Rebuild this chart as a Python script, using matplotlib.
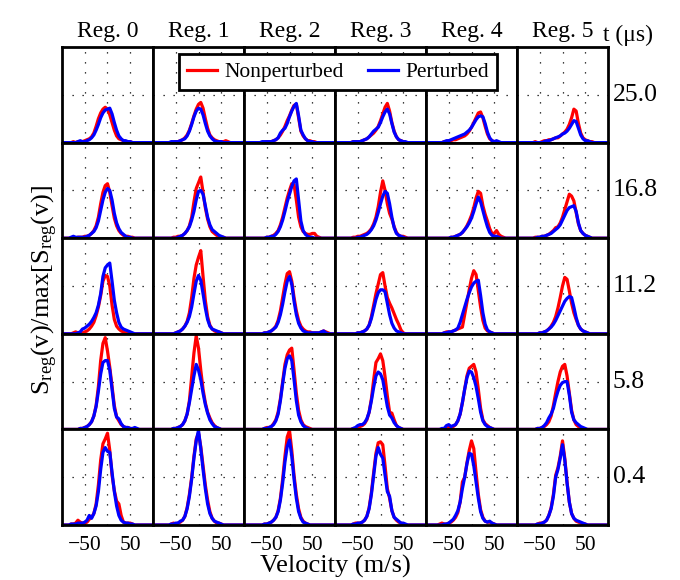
import matplotlib
matplotlib.use('Agg')
import matplotlib.pyplot as plt

# velocity sampling grid (m/s)
velocity = list(range(-100, 105, 5))

regions = ['Reg. 0', 'Reg. 1', 'Reg. 2', 'Reg. 3', 'Reg. 4', 'Reg. 5']
times = ['25.0', '16.8', '11.2', '5.8', '0.4']

# S_reg(v)/max[S_reg(v)], one list per region
nonpert_25_0 = [
    [0,0,0,0,0,.01,0,.01,.01,.01, .02,.03,.04,.06,.10,.17,.25,.31,.35,.37,.35,.29,.21,.13,.07,.04,.03,.02,.01,.01,.01, 0,0,0,0,0,0,0,0,0,0],
    [0,0,0,0,0,0,0,0,0,0, .01,.01,.02,.03,.05,.08,.13,.20,.28,.35,.40,.42,.36,.25,.15,.08,.05,.03,.02,.01,.01, .01,.02,.01,0,0,0,0,0,0,0],
    [0,0,0,0,0,0,0,0,0,0, .01,.01,.01,.02,.03,.05,.08,.12,.17,.23,.28,.34,.39,.40,.26,.12,.07,.04,.02,.02,.01, .01,0,0,0,0,0,0,0,0,0],
    [0,0,0,0,0,0,0,0,.01,.01, .01,.01,.02,.03,.04,.06,.08,.10,.13,.17,.23,.30,.37,.41,.33,.21,.12,.06,.03,.02,.01, 0,0,0,0,0,0,0,0,0,0],
    [0,0,0,0,0,0,0,0,.01,.01, .02,.02,.03,.03,.04,.05,.06,.07,.09,.12,.16,.21,.26,.31,.32,.26,.17,.09,.04,.02,.01, 0,0,0,0,0,0,0,0,0,0],
    [0,0,0,0,0,0,0,0,.01,0, 0,.01,.02,.02,.03,.03,.04,.05,.05,.07,.09,.11,.14,.19,.26,.35,.33,.20,.10,.05,.03, .02,.01,.01,0,0,0,0,0,0,0],
]
pert_25_0 = [
    [0,0,0,0,0,0,0,.01,.02,.01, .01,.02,.03,.05,.08,.13,.19,.26,.31,.34,.35,.36,.30,.21,.13,.07,.04,.02,.02,.01,.01, 0,0,0,0,0,0,0,0,0,0],
    [0,0,0,0,0,0,0,0,.01,.01, .01,.01,.02,.03,.04,.07,.12,.19,.27,.33,.36,.35,.29,.20,.12,.07,.04,.02,.01,.01,.01, 0,0,0,0,0,0,0,0,0,0],
    [0,0,0,0,0,0,0,0,.01,.01, .01,.01,.01,.02,.03,.05,.10,.13,.15,.20,.27,.33,.38,.41,.28,.13,.08,.04,.02,.01,.01, 0,0,0,0,0,0,0,0,0,0],
    [0,0,0,0,0,0,0,0,.01,.01, .01,.01,.02,.03,.04,.06,.09,.12,.14,.16,.21,.27,.32,.35,.30,.20,.11,.06,.03,.02,.01, .01,0,0,0,0,0,0,0,0,0],
    [0,0,0,0,0,0,0,0,.01,.02, .02,.03,.04,.05,.06,.07,.08,.09,.11,.13,.16,.20,.24,.27,.28,.27,.20,.11,.05,.02,.01, .02,.01,0,0,0,0,0,0,0,0],
    [0,0,0,0,0,0,0,0,0,0, 0,0,.01,.02,.02,.03,.04,.05,.06,.07,.09,.10,.12,.15,.19,.23,.22,.15,.08,.04,.02, .02,.01,0,0,0,0,0,0,0,0],
]
nonpert_16_8 = [
    [0,0,0,0,0,0,0,.01,.01,.01, .02,.02,.03,.05,.08,.13,.22,.36,.48,.55,.57,.48,.34,.21,.13,.08,.05,.03,.02,.02,.01, .01,0,0,0,0,0,0,0,0,0],
    [0,0,0,0,0,0,0,0,0,.01, .01,.02,.02,.03,.05,.08,.13,.22,.38,.52,.58,.64,.48,.32,.20,.12,.07,.05,.03,.02,.01, .01,0,0,0,0,0,0,0,0,0],
    [0,0,0,0,0,0,0,0,0,0, .01,.01,.02,.03,.05,.08,.14,.22,.32,.42,.50,.57,.56,.40,.22,.12,.07,.05,.04,.04,.05, .05,.02,.01,0,0,0,0,0,0,0],
    [0,0,0,0,0,0,0,0,.01,.01, .02,.02,.03,.04,.05,.07,.10,.15,.22,.33,.48,.60,.50,.36,.26,.20,.12,.06,.03,.02,.02, .01,0,0,0,0,0,0,0,0,0],
    [0,0,0,0,0,0,0,0,0,0, 0,.01,.01,.02,.03,.04,.06,.09,.13,.18,.24,.32,.42,.49,.47,.34,.25,.18,.10,.05,.05, .08,.04,.02,.01,0,0,0,0,0,0],
    [0,0,0,0,0,0,0,0,.01,.01, .01,.02,.02,.03,.04,.06,.08,.11,.12,.16,.22,.30,.38,.46,.44,.39,.27,.15,.08,.05,.03, .02,.01,0,0,0,0,0,0,0,0],
]
pert_16_8 = [
    [0,0,0,0,.01,.02,.01,.01,.01,.01, .01,.02,.03,.05,.07,.11,.18,.29,.40,.48,.52,.50,.40,.26,.16,.10,.06,.04,.02,.01,.01, 0,0,0,0,0,0,0,0,0,0],
    [0,0,0,0,0,0,0,0,0,0, 0,.01,.02,.03,.05,.08,.12,.19,.28,.40,.49,.50,.46,.34,.22,.14,.09,.07,.05,.03,.02, .01,0,0,0,0,0,0,0,0,0],
    [0,0,0,0,0,0,0,0,0,0, .01,.01,.02,.02,.04,.07,.12,.19,.28,.38,.46,.54,.60,.62,.40,.18,.08,.04,.02,.01,.01, 0,0,0,0,0,0,0,0,0,0],
    [0,0,0,0,0,0,0,0,0,0, .01,.01,.02,.03,.04,.06,.09,.13,.19,.27,.36,.44,.49,.47,.36,.22,.11,.05,.03,.02,.01, 0,0,0,0,0,0,0,0,0,0],
    [0,0,0,0,0,0,0,0,0,0, 0,.01,.01,.02,.03,.04,.06,.09,.12,.16,.21,.28,.36,.43,.38,.29,.20,.12,.06,.03,.02, .02,.01,0,0,0,0,0,0,0,0],
    [0,0,0,0,0,0,0,0,0,.01, .01,.02,.02,.03,.04,.05,.07,.09,.11,.14,.19,.24,.29,.32,.33,.34,.28,.16,.08,.05,.03, .02,.01,0,0,0,0,0,0,0,0],
]
nonpert_11_2 = [
    [0,0,0,0,0,.01,.02,.01,.01,.01, .02,.03,.05,.08,.12,.19,.28,.40,.55,.61,.60,.50,.30,.15,.08,.05,.03,.02,.01,.01,0, 0,0,0,0,0,0,0,0,0,0],
    [0,0,0,0,0,0,0,0,0,0, .01,.02,.03,.05,.08,.13,.22,.38,.58,.72,.80,.87,.60,.35,.18,.09,.05,.03,.02,.02,.01, 0,0,0,0,0,0,0,0,0,0],
    [0,0,0,0,0,0,0,0,0,.01, .01,.02,.03,.05,.08,.14,.24,.38,.52,.63,.65,.55,.38,.24,.14,.08,.05,.03,.02,.02,.01, .01,.01,.01,.02,.03,.02,.01,0,0,0],
    [0,0,0,0,0,0,0,0,0,0, .01,.01,.02,.03,.05,.09,.18,.30,.42,.52,.62,.64,.50,.38,.32,.27,.21,.15,.10,.04,.01, 0,0,0,0,0,0,0,0,0,0],
    [0,0,0,0,0,0,0,0,.01,.02, .02,.02,.03,.04,.05,.06,.07,.20,.33,.46,.58,.66,.62,.45,.28,.14,.06,.03,.02,.01,0, 0,0,0,0,0,0,0,0,0,0],
    [0,0,0,0,0,0,0,0,0,0, .01,.01,.02,.03,.05,.08,.12,.18,.27,.38,.50,.59,.57,.45,.32,.22,.15,.09,.05,.03,.02, .01,0,0,0,0,0,0,0,0,0],
]
pert_11_2 = [
    [0,0,0,0,0,0,0,.01,.02,.05, .06,.08,.10,.13,.17,.22,.30,.42,.60,.69,.72,.74,.55,.35,.22,.12,.07,.05,.04,.03,.02, .01,0,0,0,0,0,0,0,0,0],
    [0,0,0,0,0,0,0,0,0,0, .01,.02,.03,.05,.08,.12,.18,.28,.42,.55,.61,.56,.42,.27,.15,.08,.05,.04,.03,.02,.01, 0,0,0,0,0,0,0,0,0,0],
    [0,0,0,0,0,0,0,0,0,.01, .01,.02,.03,.05,.07,.12,.20,.31,.44,.55,.60,.52,.34,.20,.11,.06,.03,.02,.01,.01,.01, .01,.01,.01,.02,.03,.01,0,0,0,0],
    [0,0,0,0,0,0,0,0,0,0, .01,.01,.02,.03,.05,.09,.16,.26,.36,.43,.46,.46,.44,.32,.20,.11,.06,.03,.02,.01,0, 0,0,0,0,0,0,0,0,0,0],
    [0,0,0,0,0,0,0,0,.01,.01, .02,.02,.03,.04,.06,.12,.20,.28,.36,.43,.49,.53,.55,.56,.40,.22,.10,.04,.02,.01,0, 0,0,0,0,0,0,0,0,0,0],
    [0,0,0,0,0,0,0,0,0,0, .01,.01,.02,.03,.05,.07,.10,.14,.19,.24,.29,.34,.37,.39,.38,.28,.17,.09,.05,.03,.02, .01,0,0,0,0,0,0,0,0,0],
]
nonpert_5_8 = [
    [0,0,0,0,0,0,0,0,.01,.01, .02,.03,.05,.08,.14,.25,.45,.72,.90,.96,.82,.65,.45,.25,.13,.09,.05,.03,.02,.02,.01, 0,0,0,0,0,0,0,0,0,0],
    [0,0,0,0,0,0,0,0,0,.01, .01,.02,.03,.05,.09,.16,.30,.55,.80,.98,.85,.62,.42,.28,.18,.12,.07,.04,.02,.01,0, 0,0,0,0,0,0,0,0,0,0],
    [0,0,0,0,0,0,0,0,0,.01, .02,.02,.03,.06,.10,.18,.32,.50,.68,.78,.83,.85,.62,.38,.20,.10,.05,.03,.02,.01,0, 0,0,0,0,0,0,0,0,0,0],
    [0,0,0,0,0,0,0,0,.01,.01, .02,.03,.04,.06,.10,.18,.32,.52,.70,.74,.79,.72,.55,.35,.18,.17,.10,.04,.02,.01,0, 0,0,0,0,0,0,0,0,0,0],
    [0,0,0,0,0,0,0,0,.01,.01, .02,.02,.03,.05,.09,.16,.28,.42,.56,.64,.66,.68,.60,.42,.22,.10,.06,.04,.02,.01,0, 0,0,0,0,0,0,0,0,0,0],
    [0,0,0,0,0,0,0,0,0,.01, .01,.02,.03,.05,.08,.14,.25,.38,.50,.60,.66,.68,.56,.38,.20,.10,.05,.03,.02,.01,0, 0,0,0,0,0,0,0,0,0,0],
]
pert_5_8 = [
    [0,0,0,0,0,0,0,0,.01,.01, .02,.03,.05,.08,.14,.24,.40,.58,.70,.72,.72,.62,.42,.22,.13,.11,.06,.03,.02,.02,.01, .01,.02,.01,0,0,0,0,0,0,0],
    [0,0,0,0,0,0,0,0,0,.01, .01,.02,.03,.05,.09,.16,.28,.42,.56,.68,.62,.52,.38,.26,.17,.10,.06,.03,.02,.01,0, 0,0,0,0,0,0,0,0,0,0],
    [0,0,0,0,0,0,0,0,0,.01, .01,.02,.03,.05,.09,.16,.30,.48,.64,.74,.77,.72,.52,.30,.15,.08,.04,.02,.01,0,0, 0,0,0,0,0,0,0,0,0,0],
    [0,0,0,0,0,0,0,0,.01,.02, .04,.05,.05,.07,.11,.18,.30,.44,.56,.60,.58,.52,.38,.24,.15,.12,.07,.04,.02,.01,0, 0,0,0,0,0,0,0,0,0,0],
    [0,0,0,0,0,0,0,.01,.01,.04, .05,.03,.04,.05,.09,.16,.28,.42,.54,.61,.60,.54,.45,.32,.18,.09,.05,.03,.02,.01,0, 0,0,0,0,0,0,0,0,0,0],
    [0,0,0,0,0,0,0,0,0,.01, .01,.02,.04,.07,.12,.16,.22,.32,.40,.46,.49,.50,.50,.36,.18,.10,.07,.05,.03,.02,.01, 0,0,0,0,0,0,0,0,0,0],
]
nonpert_0_4 = [
    [0,0,0,0,.01,.01,.02,.05,.03,.02, .02,.03,.06,.08,.12,.22,.42,.68,.85,.90,.96,.78,.52,.36,.25,.22,.10,.03,.02,.02,.02, .01,0,0,0,0,0,0,0,0,0],
    [0,0,0,0,0,0,0,0,.01,.02, .01,.02,.03,.05,.09,.18,.32,.50,.72,.90,.96,.82,.62,.42,.26,.14,.07,.04,.02,.02,.01, 0,0,0,0,0,0,0,0,0,0],
    [0,0,0,0,0,0,0,0,0,.01, .01,.02,.03,.05,.08,.15,.28,.48,.72,.92,.99,.78,.52,.32,.17,.08,.04,.02,.01,0,0, 0,0,0,0,0,0,0,0,0,0],
    [0,0,0,0,0,0,0,0,.01,.02, .02,.02,.03,.05,.09,.18,.34,.55,.75,.86,.87,.84,.62,.38,.28,.15,.08,.05,.03,.02,.01, 0,0,0,0,0,0,0,0,0,0],
    [0,0,0,0,0,0,.01,.02,.01,.01, .02,.03,.05,.08,.13,.24,.45,.50,.65,.78,.88,.80,.55,.32,.16,.08,.04,.03,.03,.02,.01, 0,0,0,0,0,0,0,0,0,0],
    [0,0,0,0,0,0,0,0,0,.01, .02,.02,.03,.05,.10,.18,.32,.52,.60,.72,.88,.70,.45,.24,.12,.07,.04,.03,.02,.01,.01, 0,0,0,0,0,0,0,0,0,0],
]
pert_0_4 = [
    [0,0,0,0,.01,.01,.01,.02,.02,.02, .03,.05,.10,.07,.12,.20,.35,.58,.76,.81,.77,.76,.55,.35,.20,.10,.05,.03,.02,.02,.01, .01,0,0,0,0,0,0,0,0,0],
    [0,0,0,0,0,0,0,0,.01,.01, .02,.02,.04,.05,.09,.17,.30,.48,.70,.88,.99,.80,.58,.38,.22,.12,.07,.04,.03,.02,.01, 0,0,0,0,0,0,0,0,0,0],
    [0,0,0,0,0,0,0,0,0,.01, .01,.02,.03,.05,.08,.14,.26,.44,.66,.82,.89,.72,.48,.28,.14,.07,.03,.02,.01,0,0, 0,0,0,0,0,0,0,0,0,0],
    [0,0,0,0,0,0,0,0,.01,.01, .02,.02,.03,.05,.09,.17,.32,.52,.72,.81,.74,.70,.52,.35,.30,.15,.08,.06,.04,.02,.02, .01,0,0,0,0,0,0,0,0,0],
    [0,0,0,0,0,0,0,0,.01,.01, .02,.04,.06,.10,.15,.24,.38,.50,.64,.75,.74,.62,.45,.28,.14,.07,.04,.03,.04,.02,.01, 0,0,0,0,0,0,0,0,0,0],
    [0,0,0,0,0,0,0,0,0,.01, .01,.02,.03,.05,.10,.17,.30,.50,.58,.70,.84,.68,.44,.24,.12,.07,.05,.04,.03,.02,.01, 0,0,0,0,0,0,0,0,0,0],
]

nonpert = [nonpert_25_0, nonpert_16_8, nonpert_11_2, nonpert_5_8, nonpert_0_4]
pert = [pert_25_0, pert_16_8, pert_11_2, pert_5_8, pert_0_4]

for i in range(5):
    for j in range(6):
        assert len(nonpert[i][j]) == len(velocity), ('nonpert', i, j, len(nonpert[i][j]))
        assert len(pert[i][j]) == len(velocity), ('pert', i, j, len(pert[i][j]))

plt.rcParams['font.family'] = ['Liberation Serif', 'DejaVu Serif']
plt.rcParams['mathtext.fontset'] = 'custom'
plt.rcParams['mathtext.rm'] = 'Liberation Serif'
plt.rcParams['mathtext.it'] = 'Liberation Serif:italic'

fig, axes = plt.subplots(5, 6, figsize=(6.8, 5.8), dpi=100, sharex=True, sharey=True)
fig.subplots_adjust(left=62/680, right=608/680, top=1-47/580, bottom=1-525/580,
                    wspace=0, hspace=0)

dots = (0, (1, 7))
for i in range(5):
    for j in range(6):
        ax = axes[i, j]
        for x in (-50, 0, 50):
            ax.axvline(x, color='k', lw=0.9, ls=dots, zorder=1)
        ax.axhline(0.5, color='k', lw=0.9, ls=dots, zorder=1)
        l1, = ax.plot(velocity, nonpert[i][j], color='red', lw=2.3, zorder=3)
        l2, = ax.plot(velocity, pert[i][j], color='blue', lw=2.3, zorder=4)
        for sp in ax.spines.values():
            sp.set_linewidth(2)
            sp.set_zorder(5)
        ax.tick_params(length=0, labelsize=15.5, pad=8)
        ax.set_yticks([])
    axes[i, 5].text(1.05, 0.5, times[i], transform=axes[i, 5].transAxes,
                    fontsize=18.5, va='center', ha='left')

axes[0, 0].set_xlim(-100, 100)
axes[0, 0].set_ylim(0, 1)
axes[0, 0].set_xticks([-50, 50])

for j in range(6):
    axes[0, j].set_title(regions[j], fontsize=17, pad=7)
axes[0, 5].text(0.95, 1.12, 't (μs)', transform=axes[0, 5].transAxes,
                fontsize=17, va='center', ha='left')

leg = fig.legend([l1, l2], ['Nonperturbed', 'Perturbed'], loc='center',
                 bbox_to_anchor=(338/680, 1-72/580), ncol=2, fontsize=15.5,
                 frameon=True, fancybox=False, edgecolor='k', framealpha=1,
                 handlelength=1.4, handletextpad=0.35, columnspacing=1.1,
                 borderpad=0.35)
leg.get_frame().set_linewidth(2)

fig.supxlabel('Velocity (m/s)', x=335/680, y=1-566/580, fontsize=19, va='center')
fig.supylabel(r'S$_{\mathrm{reg}}$(v)/max[S$_{\mathrm{reg}}$(v)]', x=30/680, y=0.5,
              fontsize=19, va='center')

fig.savefig('out.png', dpi=100)
